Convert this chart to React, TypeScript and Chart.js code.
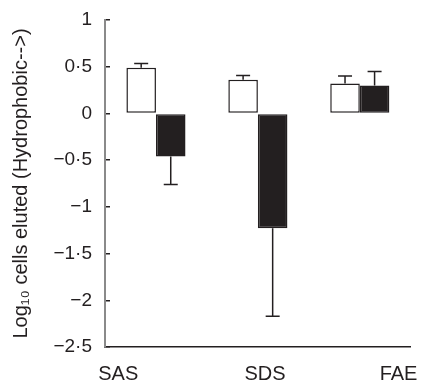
import React, { useEffect, useRef } from "react";
import { Chart, registerables } from "chart.js";

Chart.register(...registerables);

const categories = ["SAS", "SDS", "FAE"];
const whiteValues = [0.49, 0.36, 0.32];
const whiteErrors = [0.045, 0.045, 0.08];
const blackValues = [-0.46, -1.23, 0.3];
const blackErrors = [0.3, 0.94, 0.15];
const yTickValues = [-2.5, -2, -1.5, -1, -0.5, 0, 0.5, 1];
const yTickLabels = ["−2·5", "−2", "−1·5", "−1", "−0·5", "0", "0·5", "1"];
// category-axis units where the (offset) category names are printed
const categoryLabelPositions = [-0.37, 1.07, 2.38];

const INK = "#231f20";

const errorBarPlugin = {
  id: "errorBars",
  afterDatasetsDraw(chart: any) {
    const ctx = chart.ctx;
    const yScale = chart.scales.y;
    ctx.save();
    ctx.strokeStyle = INK;
    ctx.lineWidth = 1.5;
    chart.data.datasets.forEach((ds: any, di: number) => {
      const meta = chart.getDatasetMeta(di);
      meta.data.forEach((el: any, i: number) => {
        const v = ds.data[i];
        const e = ds.errors[i];
        const end = v >= 0 ? v + e : v - e;
        const yEnd = yScale.getPixelForValue(end);
        const x = el.x;
        ctx.beginPath();
        ctx.moveTo(x, el.y);
        ctx.lineTo(x, yEnd);
        ctx.moveTo(x - 7, yEnd);
        ctx.lineTo(x + 7, yEnd);
        ctx.stroke();
      });
    });
    ctx.restore();
  },
};

export default function App() {
  const ref = useRef<HTMLCanvasElement>(null);
  useEffect(() => {
    if (!ref.current) return;
    Chart.defaults.font.family = "'Liberation Sans', Arial, sans-serif";
    Chart.defaults.color = INK;
    const chart = new Chart(ref.current, {
      type: "bar",
      data: {
        labels: categories,
        datasets: [
          {
            label: "white",
            data: whiteValues,
            errors: whiteErrors,
            backgroundColor: "#ffffff",
            borderColor: INK,
            borderWidth: 1.5,
            borderSkipped: false,
          } as any,
          {
            label: "black",
            data: blackValues,
            errors: blackErrors,
            backgroundColor: INK,
            borderColor: INK,
            borderWidth: 1.5,
            borderSkipped: false,
          } as any,
        ],
      },
      options: {
        animation: false,
        responsive: true,
        maintainAspectRatio: false,
        categoryPercentage: 0.58,
        barPercentage: 1,
        layout: { padding: { top: 20, right: 10, left: 0, bottom: 0 } },
        plugins: {
          legend: { display: false },
          tooltip: { enabled: false },
        },
        scales: {
          x: {
            type: "category",
            position: "bottom",
            offset: true,
            grid: { display: false },
            ticks: { display: false },
            border: { display: true, color: INK, width: 1.5 },
            afterFit: (s: any) => {
              s.height = 0;
            },
          },
          xl: {
            type: "linear",
            position: "bottom",
            offset: false,
            min: -0.5,
            max: 2.5,
            grid: { display: false, offset: false },
            border: { display: false },
            afterBuildTicks: (s: any) => {
              s.ticks = categoryLabelPositions.map((v) => ({ value: v }));
            },
            ticks: {
              padding: 7,
              autoSkip: false,
              maxRotation: 0,
              font: { size: 20 },
              color: INK,
              callback: (_v: any, i: number) => categories[i],
            },
            afterFit: (s: any) => {
              s.height = 39;
            },
          },
          y: {
            min: -2.5,
            max: 1,
            afterBuildTicks: (s: any) => {
              s.ticks = yTickValues.map((v) => ({ value: v }));
            },
            grid: {
              display: true,
              drawOnChartArea: false,
              tickLength: -5,
              color: INK,
              lineWidth: 1.5,
            },
            border: { display: true, color: "#8a8a8a", width: 2 },
            ticks: {
              padding: 18,
              autoSkip: false,
              font: { size: 19 },
              color: INK,
              callback: (v: any) => {
                const idx = yTickValues.indexOf(Number(v));
                return idx >= 0 ? yTickLabels[idx] : "";
              },
            },
            title: {
              display: true,
              text: "Log₁₀ cells eluted (Hydrophobic-->)",
              font: { size: 20 },
              color: INK,
              padding: { top: 9, bottom: 0 },
            },
            afterFit: (s: any) => {
              s.width = 105;
              s.paddingTop = 0;
              s.paddingBottom = 0;
            },
          },
        },
      } as any,
      plugins: [errorBarPlugin],
    });
    return () => chart.destroy();
  }, []);
  return (
    <div style={{ position: "absolute", left: 0, top: 0, width: 425, height: 386, background: "#fff" }}>
      <canvas ref={ref} />
    </div>
  );
}
